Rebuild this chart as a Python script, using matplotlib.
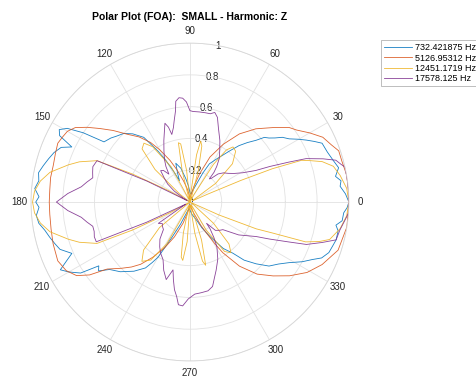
import numpy as np
import matplotlib
matplotlib.use('Agg')
import matplotlib.pyplot as plt

plt.rcParams['font.family'] = ['Liberation Sans', 'DejaVu Sans']

# values, angles in degrees
blue_deg = [0, 3, 6, 8, 10, 13, 16, 20, 24, 26, 28, 30, 32.5, 35, 37, 39, 41, 43, 46, 49, 52, 55, 59, 63, 66,
            70, 75, 80, 85, 90, 95, 100, 105, 110, 113, 116, 118, 120, 122, 125.5, 130, 134, 138, 141, 145,
            147, 149, 151, 153, 155, 157, 160, 163, 166, 169, 172, 175, 178, 180, 182, 185, 188, 191, 194,
            197, 200, 203.5, 205.5, 207.6, 210, 213, 215, 217, 220, 225, 231, 236, 238, 240, 243, 247, 255,
            262, 270, 280, 290, 295, 300, 305.7, 310, 313, 317, 321, 325, 328.5, 332, 334.8, 337, 340, 343,
            345.5, 349, 351, 353, 356, 358, 360]
blue_r = [1.0, 0.98, 0.95, 0.96, 0.93, 0.96, 0.94, 0.92, 0.91, 0.87, 0.83, 0.79, 0.74, 0.71, 0.67, 0.64, 0.62,
          0.57, 0.52, 0.47, 0.41, 0.36, 0.31, 0.27, 0.2, 0.12, 0.08, 0.06, 0.05, 0.06, 0.1, 0.15, 0.22, 0.26,
          0.2, 0.15, 0.22, 0.3, 0.375, 0.5, 0.56, 0.6, 0.62, 0.64, 0.66, 0.80, 0.90, 0.94, 0.92, 0.82, 0.88,
          0.91, 0.93, 0.95, 0.97, 0.96, 0.98, 0.95, 0.97, 0.95, 0.97, 0.96, 0.93, 0.91, 0.89, 0.87, 0.81, 0.86,
          0.92, 0.88, 0.82, 0.70, 0.72, 0.66, 0.62, 0.56, 0.5, 0.45, 0.4, 0.25, 0.15, 0.06, 0.04, 0.05,
          0.08, 0.12, 0.18, 0.25, 0.36, 0.42, 0.5, 0.57, 0.64, 0.68, 0.73, 0.8, 0.85, 0.9, 0.93, 0.94, 0.95,
          0.95, 0.93, 0.965, 0.97, 0.99, 1.0]

orange_deg = [0, 5, 10, 15, 19, 22, 26, 30, 34, 37, 42, 48, 54, 60, 66, 71, 76, 82, 88, 92, 97, 102, 107, 112,
              115.5, 120, 123.5, 128, 132.7, 137, 140.7, 144, 147, 150, 153, 156, 160, 165, 170, 175, 180, 185,
              191, 197, 204, 209, 213, 216, 219, 224, 228, 231.6, 236, 241, 246, 252, 258, 265, 272, 280, 285,
              290, 295, 298, 301, 303, 307.7, 313, 318.4, 323.5, 329, 334.7, 342, 351, 360]
orange_r = [1.0, 1.0, 1.0, 0.99, 0.99, 0.96, 0.93, 0.87, 0.81, 0.78, 0.70, 0.62, 0.53, 0.42, 0.31, 0.19, 0.1,
            0.04, 0.03, 0.03, 0.05, 0.09, 0.14, 0.22, 0.29, 0.38, 0.45, 0.52, 0.58, 0.66, 0.73, 0.80, 0.86, 0.89,
            0.90, 0.91, 0.90, 0.89, 0.89, 0.885, 0.885, 0.885, 0.89, 0.90, 0.91, 0.89, 0.85, 0.78, 0.67, 0.60,
            0.55, 0.50, 0.42, 0.33, 0.24, 0.14, 0.07, 0.03, 0.02, 0.03, 0.05, 0.08, 0.16, 0.22, 0.31, 0.38, 0.51,
            0.62, 0.70, 0.78, 0.86, 0.92, 0.98, 1.0, 1.0]

yellow_deg = [0, 5, 10, 14, 17, 19, 20.5, 22, 23, 24, 25, 30, 36, 42, 48, 52, 55, 58, 62, 65, 70, 75, 78, 80,
              82, 85, 88, 92, 96, 99, 101, 104, 107, 112, 118, 124, 128, 132, 137, 142, 146, 150, 152, 154,
              156, 160, 163, 168, 172, 176, 180, 184, 188, 192, 197, 200, 204, 206, 208, 210, 214, 220, 226,
              231, 236, 241, 246, 254, 258, 261, 263, 266, 269, 275, 279, 282, 284, 287, 290, 295, 300, 305,
              309, 313, 318, 323, 333, 336, 338, 339.5, 341, 343, 345, 350, 355, 360]
yellow_r = [1.0, 0.99, 0.96, 0.93, 0.87, 0.80, 0.75, 0.56, 0.35, 0.12, 0.02, 0.02, 0.2, 0.36, 0.43, 0.44, 0.4,
            0.28, 0.05, 0.01, 0.02, 0.2, 0.36, 0.39, 0.3, 0.05, 0.0, 0.01, 0.2, 0.37, 0.38, 0.2, 0.02, 0.02,
            0.25, 0.42, 0.47, 0.45, 0.3, 0.08, 0.0, 0.0, 0.15, 0.4, 0.64, 0.74, 0.80, 0.9, 0.95, 0.98, 0.99,
            0.98, 0.95, 0.9, 0.8, 0.74, 0.64, 0.4, 0.15, 0.0, 0.0, 0.25, 0.42, 0.48, 0.44, 0.3, 0.05, 0.02,
            0.2, 0.35, 0.37, 0.25, 0.02, 0.02, 0.2, 0.38, 0.41, 0.25, 0.02, 0.02, 0.2, 0.38, 0.41, 0.36, 0.2,
            0.03, 0.0, 0.2, 0.45, 0.56, 0.77, 0.85, 0.91, 0.96, 0.99, 1.0]

purple_deg = [0, 4, 8, 12.7, 14, 16, 18, 20.5, 22, 24, 25.6, 29, 33, 37, 41, 45, 48, 50, 51, 53, 56, 60, 64,
              69, 72, 74.5, 77, 80, 84, 88, 90, 92, 94, 96, 98, 99, 101, 102.5, 105, 106, 107.6, 110, 113, 117,
              121, 124, 127, 130, 133, 137, 141, 145, 149, 152, 154, 156, 160, 163, 166, 169, 172, 176, 180,
              184, 188, 191, 194, 197, 200, 203, 205, 207, 210, 214, 218, 221, 226, 231, 236, 240, 245, 249,
              253, 256, 258, 260, 262, 263.6, 266, 269, 273, 277, 281.5, 285, 288, 291, 296, 301, 304, 307,
              308, 312, 317, 320, 326, 332.5, 335, 338, 340, 343, 345.5, 349.5, 353, 356, 360]
purple_r = [1.0, 1.0, 1.0, 1.0, 0.98, 0.955, 0.88, 0.78, 0.67, 0.55, 0.46, 0.38, 0.33, 0.30, 0.28, 0.25, 0.2,
            0.19, 0.24, 0.28, 0.33, 0.375, 0.43, 0.50, 0.56, 0.585, 0.57, 0.57, 0.57, 0.57, 0.575, 0.63,
            0.655, 0.66, 0.64, 0.58, 0.52, 0.48, 0.44, 0.49, 0.52, 0.47, 0.42, 0.36, 0.31, 0.27, 0.22, 0.26,
            0.27, 0.22, 0.18, 0.12, 0.05, 0.02, 0.3, 0.64, 0.65, 0.64, 0.63, 0.66, 0.69, 0.77, 0.84, 0.77, 0.69,
            0.66, 0.63, 0.63, 0.64, 0.64, 0.3, 0.03, 0.05, 0.24, 0.22, 0.23, 0.24, 0.3, 0.34, 0.37, 0.40, 0.46,
            0.51, 0.44, 0.5, 0.56, 0.6, 0.65, 0.655, 0.61, 0.58, 0.575, 0.57, 0.55, 0.5, 0.46, 0.4, 0.33, 0.27,
            0.21, 0.17, 0.24, 0.26, 0.27, 0.37, 0.47, 0.55, 0.67, 0.78, 0.87, 0.95, 0.96, 0.98, 1.0, 1.0]

labels = ['732.421875 Hz', '5126.95312 Hz', '12451.1719 Hz', '17578.125 Hz']
colors = ['#0072BD', '#D95319', '#EDB120', '#7E2F8E']
r_ticks = [0, 0.2, 0.4, 0.6, 0.8, 1]
r_tick_labels = ['0', '0.2', '0.4', '0.6', '0.8', '1']
theta_ticks = list(range(0, 360, 30))

series = [(blue_deg, blue_r), (orange_deg, orange_r), (yellow_deg, yellow_r), (purple_deg, purple_r)]

fig = plt.figure(figsize=(4.76, 3.78), dpi=100)
ax = fig.add_axes([0.065, 0.045, 0.668, 0.841], projection='polar')

lines = []
for (deg, r), c, lab in zip(series, colors, labels):
    assert len(deg) == len(r), lab
    ln, = ax.plot(np.deg2rad(deg), r, color=c, lw=0.6, alpha=0.9, label=lab)
    lines.append(ln)

ax.set_ylim(0, 1)
ax.set_yticks(r_ticks[1:])
ax.set_yticklabels([])
ax.set_thetagrids(theta_ticks, labels=[str(t) for t in theta_ticks])
ax.tick_params(axis='x', pad=-2, labelsize=7, labelcolor='#262626')
ax.grid(color='#e2e2e2', lw=0.6)
ax.spines['polar'].set_color('#d6d6d6')
ax.spines['polar'].set_linewidth(0.6)

# radial labels sit along the 80 degree spoke like in MATLAB
for rv, lab in zip(r_ticks, r_tick_labels):
    ax.text(np.deg2rad(80), rv, lab, ha='center', va='center', fontsize=7, color='#262626', zorder=1)

fig.text(190 / 476, 1 - 17 / 378, 'Polar Plot (FOA):  SMALL - Harmonic: Z',
         ha='center', va='center', fontsize=7.5, weight='bold')

leg = fig.legend(handles=lines, loc='upper left', bbox_to_anchor=(381 / 476, 1 - 40 / 378),
                 fontsize=6.5, frameon=True, fancybox=False, handlelength=3.1, handletextpad=0.3,
                 borderpad=0.35, labelspacing=0.15, borderaxespad=0)
leg.get_frame().set_edgecolor('#a0a0a0')
leg.get_frame().set_linewidth(0.6)

fig.savefig('out.png', dpi=100)
